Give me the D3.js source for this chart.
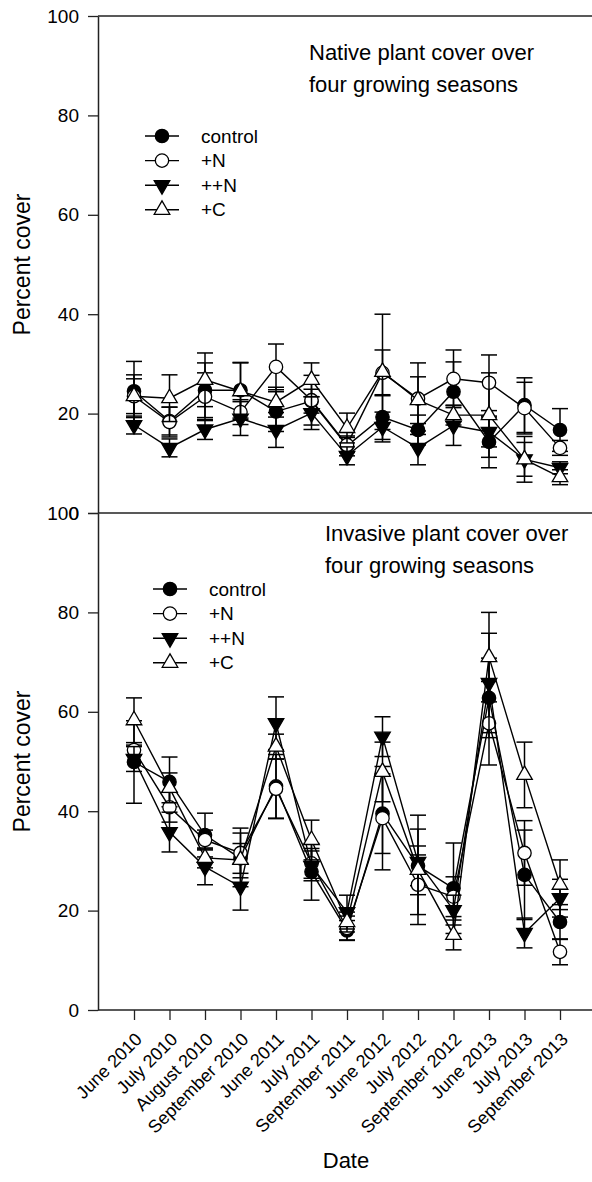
<!DOCTYPE html>
<html>
<head>
<meta charset="utf-8">
<script src="https://cdn.jsdelivr.net/npm/d3@7"></script>
<style>
  body { margin: 0; background: #fff; }
  svg { display: block; font-family: "Liberation Sans", Arial, sans-serif; }
</style>
</head>
<body>
<div id="container"></div>
<script>
// Sampling dates (x categories)
const dates = ["June 2010", "July 2010", "August 2010", "September 2010", "June 2011", "July 2011",
  "September 2011", "June 2012", "July 2012", "September 2012", "June 2013", "July 2013", "September 2013"];

const treatments = ["control", "+N", "++N", "+C"];
const yTicks = [0, 20, 40, 60, 80, 100];

// Native plant cover (mean, SE)
const nativeControl = [24.5, 18.5, 24.7, 24.7, 20.4, 22.5, 13.5, 19.3, 16.7, 24.4, 14.3, 21.7, 16.7];
const nativeControlSE = [6.0, 2.8, 5.5, 5.6, 4.0, 2.4, 2.0, 4.5, 3.0, 6.0, 5.2, 5.5, 4.3];
const nativeN = [23.5, 18.3, 23.4, 20.3, 29.4, 22.7, 13.7, 28.2, 23.0, 27.0, 26.2, 21.1, 13.1];
const nativeNSE = [3.5, 3.0, 4.8, 2.5, 4.6, 5.0, 1.5, 4.6, 7.2, 5.8, 5.6, 5.2, 1.5];
const nativeNN = [17.7, 13.1, 16.8, 19.0, 16.7, 20.1, 11.5, 17.3, 13.1, 17.6, 16.3, 10.8, 9.1];
const nativeNNSE = [1.8, 1.8, 2.0, 3.4, 3.5, 3.3, 1.8, 3.0, 3.4, 4.0, 3.0, 3.4, 1.2];
const nativeC = [23.5, 23.1, 26.8, 24.5, 22.3, 26.8, 17.1, 28.4, 22.7, 19.7, 19.7, 10.8, 7.2];
const nativeCSE = [4.3, 4.7, 5.4, 5.7, 3.0, 3.4, 3.0, 11.6, 4.7, 2.0, 8.5, 4.6, 1.5];

// Invasive plant cover (mean, SE)
const invControl = [49.9, 45.9, 35.2, 30.5, 45.0, 27.8, 16.0, 39.5, 29.0, 24.5, 62.8, 27.2, 17.7];
const invControlSE = [8.3, 5.0, 4.4, 3.0, 6.4, 5.7, 2.0, 8.0, 4.0, 9.1, 8.0, 9.0, 3.5];
const invN = [52.3, 40.8, 34.2, 31.6, 44.5, 29.5, 16.5, 38.6, 25.2, 22.8, 57.7, 31.6, 11.7];
const invNSE = [1.0, 3.0, 2.0, 5.0, 6.0, 3.0, 2.4, 10.4, 6.0, 4.0, 8.4, 6.5, 2.6];
const invNN = [50.5, 35.8, 28.8, 24.8, 57.7, 29.0, 19.7, 55.0, 29.8, 20.1, 65.8, 15.5, 22.5];
const invNNSE = [2.5, 4.0, 3.6, 4.7, 5.3, 3.0, 3.4, 4.0, 6.6, 3.0, 10.0, 3.0, 3.8];
const invC = [58.3, 44.7, 30.6, 30.2, 53.0, 34.2, 17.7, 47.9, 28.2, 15.1, 71.0, 47.3, 25.2];
const invCSE = [4.5, 3.0, 2.0, 5.4, 2.5, 4.0, 2.0, 6.0, 11.0, 3.0, 9.0, 6.6, 5.0];

const width = 592, height = 1182;
const axisX = 98, rightX = 592;

const svg = d3.select("#container").append("svg")
  .attr("width", width)
  .attr("height", height);

const x = d3.scalePoint().domain(dates).range([134, 560]);

const symbols = {
  "control": {shape: d3.symbolCircle, fill: "#000", rotate: 0},
  "+N": {shape: d3.symbolCircle, fill: "#fff", rotate: 0},
  "++N": {shape: d3.symbolTriangle, fill: "#000", rotate: 180},
  "+C": {shape: d3.symbolTriangle, fill: "#fff", rotate: 0}
};
const symSize = {circle: 140, triangle: 105};

function drawSymbol(g, name, cx, cy) {
  const s = symbols[name];
  const size = s.shape === d3.symbolCircle ? symSize.circle : symSize.triangle;
  g.append("path")
    .attr("d", d3.symbol(s.shape, size)())
    .attr("transform", `translate(${cx},${cy}) rotate(${s.rotate})`)
    .attr("fill", s.fill)
    .attr("stroke", "#000")
    .attr("stroke-width", 1.3);
}

function drawPanel(opts) {
  const y = d3.scaleLinear().domain([0, 100]).range([opts.bottom, opts.top]);
  const g = svg.append("g");

  // frame line along the top of the panel
  g.append("line")
    .attr("x1", axisX).attr("x2", rightX)
    .attr("y1", y(100)).attr("y2", y(100))
    .attr("stroke", "#222").attr("stroke-width", 1.5);

  const yAxis = g.append("g")
    .attr("transform", `translate(${axisX},0)`)
    .call(d3.axisLeft(y).tickValues(yTicks).tickSize(10).tickSizeOuter(0).tickPadding(9));
  yAxis.select(".domain").attr("stroke", "#222").attr("stroke-width", 1.5);
  yAxis.selectAll(".tick line").attr("stroke", "#222").attr("stroke-width", 1.3);
  yAxis.selectAll(".tick text").attr("font-size", 19).attr("fill", "#000")
    .attr("font-family", "Liberation Sans, Arial, sans-serif");

  g.append("text")
    .attr("transform", `translate(30,${(opts.top + opts.bottom) / 2}) rotate(-90)`)
    .attr("text-anchor", "middle")
    .attr("font-size", 23)
    .text("Percent cover");

  // series: error bars, line, symbols
  opts.series.forEach(s => {
    const sg = g.append("g");
    s.values.forEach((v, i) => {
      const cx = x(dates[i]);
      const lo = y(v - s.se[i]), hi = y(v + s.se[i]);
      sg.append("line").attr("x1", cx).attr("x2", cx).attr("y1", lo).attr("y2", hi)
        .attr("stroke", "#000").attr("stroke-width", 1.5);
      [lo, hi].forEach(yy => {
        sg.append("line").attr("x1", cx - 8).attr("x2", cx + 8).attr("y1", yy).attr("y2", yy)
          .attr("stroke", "#000").attr("stroke-width", 1.5);
      });
    });
    sg.append("path")
      .datum(s.values)
      .attr("fill", "none")
      .attr("stroke", "#000")
      .attr("stroke-width", 1.4)
      .attr("d", d3.line().x((d, i) => x(dates[i])).y(d => y(d)));
    s.values.forEach((v, i) => drawSymbol(sg, s.name, x(dates[i]), y(v)));
  });

  // legend
  const lg = g.append("g");
  treatments.forEach((name, i) => {
    const ly = opts.legend.y + i * 24.6;
    lg.append("line")
      .attr("x1", opts.legend.x - 17).attr("x2", opts.legend.x + 17)
      .attr("y1", ly).attr("y2", ly)
      .attr("stroke", "#000").attr("stroke-width", 1.4);
    drawSymbol(lg, name, opts.legend.x, ly);
    lg.append("text")
      .attr("x", opts.legend.x + 39)
      .attr("y", ly)
      .attr("dy", "0.35em")
      .attr("font-size", 19)
      .text(name);
  });

  // title
  opts.title.forEach((t, i) => {
    g.append("text")
      .attr("x", opts.titleX)
      .attr("y", opts.titleY + i * 32)
      .attr("font-size", 22)
      .text(t);
  });

  return y;
}

drawPanel({
  top: 16, bottom: 513,
  series: [
    {name: "control", values: nativeControl, se: nativeControlSE},
    {name: "+N", values: nativeN, se: nativeNSE},
    {name: "++N", values: nativeNN, se: nativeNNSE},
    {name: "+C", values: nativeC, se: nativeCSE}
  ],
  legend: {x: 162, y: 136},
  title: ["Native plant cover over", "four growing seasons"],
  titleX: 309, titleY: 60
});

const yBottom = drawPanel({
  top: 513, bottom: 1010,
  series: [
    {name: "control", values: invControl, se: invControlSE},
    {name: "+N", values: invN, se: invNSE},
    {name: "++N", values: invNN, se: invNNSE},
    {name: "+C", values: invC, se: invCSE}
  ],
  legend: {x: 170, y: 589},
  title: ["Invasive plant cover over", "four growing seasons"],
  titleX: 325, titleY: 541
});

// x axis
const xAxis = svg.append("g")
  .attr("transform", `translate(0,${yBottom(0)})`)
  .call(d3.axisBottom(x).tickSize(10).tickSizeOuter(0));
xAxis.select(".domain").remove();
svg.append("line")
  .attr("x1", axisX).attr("x2", rightX)
  .attr("y1", yBottom(0)).attr("y2", yBottom(0))
  .attr("stroke", "#222").attr("stroke-width", 1.5);
xAxis.selectAll(".tick line").attr("stroke", "#222").attr("stroke-width", 1.3);
xAxis.selectAll(".tick text")
  .attr("font-size", 18)
  .attr("fill", "#000")
  .attr("font-family", "Liberation Sans, Arial, sans-serif")
  .attr("text-anchor", "end")
  .attr("x", 0)
  .attr("y", 0)
  .attr("dy", "0.35em")
  .attr("transform", "translate(4,26) rotate(-45)");

svg.append("text")
  .attr("x", 346)
  .attr("y", 1168)
  .attr("text-anchor", "middle")
  .attr("font-size", 22)
  .text("Date");
</script>
</body>
</html>
